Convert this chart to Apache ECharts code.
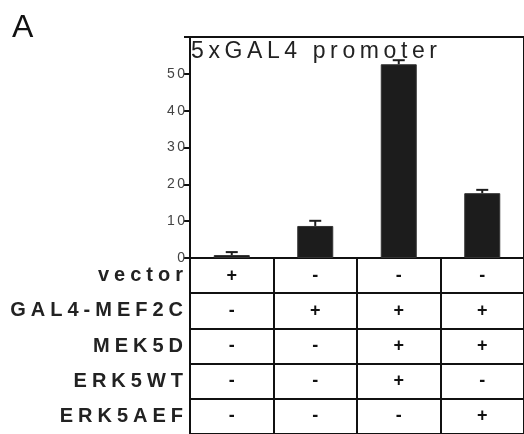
<!DOCTYPE html>
<html>
<head>
<meta charset="utf-8">
<script src="https://cdn.jsdelivr.net/npm/echarts@6/dist/echarts.min.js"></script>
<style>
  html, body { margin: 0; padding: 0; background: #fff; }
  #chart { width: 524px; height: 434px; }
</style>
</head>
<body>
<div id="chart"></div>
<script>
// Reporter activity (5xGAL4 promoter) for four transfection conditions
const lanes = ['lane1', 'lane2', 'lane3', 'lane4'];
const activity = [0.8, 8.7, 52.6, 17.6];
const errorTop = [1.6, 10.1, 53.7, 18.5];
const yTicks = [0, 10, 20, 30, 40, 50];

// Transfection table below the bars
const rowLabels = ['vector', 'GAL4-MEF2C', 'MEK5D', 'ERK5WT', 'ERK5AEF'];
const vectorRow = ['+', '-', '-', '-'];
const mef2cRow  = ['-', '+', '+', '+'];
const mek5dRow  = ['-', '-', '+', '+'];
const erk5wtRow = ['-', '-', '+', '-'];
const erk5aefRow = ['-', '-', '-', '+'];
const signRows = [vectorRow, mef2cRow, mek5dRow, erk5wtRow, erk5aefRow];

// letter-spaced text using narrow unicode spaces
const spaced = (s, gap) => s.split('').join(gap);

const FONT = '"Liberation Sans", Arial, Helvetica, sans-serif';

const tableData = [];
signRows.forEach((row, r) => row.forEach((sign, c) => tableData.push([c, r, sign])));

const chart = echarts.init(document.getElementById('chart'), null, { renderer: 'canvas' });

chart.setOption({
  animation: false,
  backgroundColor: '#fff',
  title: [
    {
      text: 'A', left: 12, top: 12, padding: 0,
      textStyle: { fontFamily: FONT, fontSize: 32, fontWeight: 'normal', color: '#111' }
    },
    {
      text: spaced('5xGAL4 promoter', '\u2009'), left: 191, top: 40, padding: 0,
      textStyle: { fontFamily: FONT, fontSize: 23, fontWeight: 'normal', color: '#222' }
    }
  ],
  grid: [
    { left: 190, top: 37, right: -2, height: 221, show: true, borderColor: '#111', borderWidth: 2 },
    { left: 190, top: 258, right: -2, height: 180 }
  ],
  xAxis: [
    {
      type: 'category', gridIndex: 0, data: lanes,
      axisLine: { show: true, lineStyle: { color: '#111', width: 2 } },
      axisTick: { show: false }, axisLabel: { show: false }
    },
    {
      type: 'category', gridIndex: 1, data: lanes,
      axisLine: { show: false }, axisTick: { show: false }, axisLabel: { show: false },
      splitLine: { show: true, interval: 0, lineStyle: { color: '#111', width: 2 } }
    }
  ],
  yAxis: [
    {
      type: 'value', gridIndex: 0, min: 0, max: 60, interval: 10,
      axisLine: { show: true, lineStyle: { color: '#111', width: 2 } },
      axisTick: { show: true, length: 6, lineStyle: { color: '#111', width: 2 } },
      splitLine: { show: false },
      axisLabel: {
        margin: 5, fontFamily: FONT, fontSize: 14, color: '#444',
        formatter: v => (yTicks.includes(v) ? spaced(String(v), '\u2006') : '')
      }
    },
    {
      type: 'category', gridIndex: 1, data: rowLabels, inverse: true,
      axisLine: { show: true, lineStyle: { color: '#111', width: 2 } },
      axisTick: { show: false },
      splitLine: { show: true, interval: 0, lineStyle: { color: '#111', width: 2 } },
      axisLabel: {
        margin: 7, fontFamily: FONT, fontSize: 20, fontWeight: 'bold', color: '#222',
        formatter: s => spaced(s, '\u2005')
      }
    }
  ],
  series: [
    {
      type: 'bar', xAxisIndex: 0, yAxisIndex: 0, data: activity, barWidth: 36,
      itemStyle: { color: '#1c1c1c', borderColor: '#333', borderWidth: 1 }, z: 3
    },
    {
      // upper error bars with a short cap
      type: 'custom', xAxisIndex: 0, yAxisIndex: 0, z: 4,
      data: lanes.map((_, i) => [i, activity[i], errorTop[i]]),
      renderItem: (params, api) => {
        const base = api.coord([api.value(0), api.value(1)]);
        const top = api.coord([api.value(0), api.value(2)]);
        const style = { stroke: '#1c1c1c', lineWidth: 2 };
        return {
          type: 'group',
          children: [
            { type: 'line', shape: { x1: base[0], y1: base[1], x2: top[0], y2: top[1] }, style },
            { type: 'line', shape: { x1: top[0] - 6, y1: top[1], x2: top[0] + 6, y2: top[1] }, style }
          ]
        };
      }
    },
    {
      // +/- marks of the transfection table
      type: 'custom', xAxisIndex: 1, yAxisIndex: 1, z: 5,
      data: tableData,
      renderItem: (params, api) => {
        const p = api.coord([api.value(0), api.value(1)]);
        return {
          type: 'text',
          style: {
            text: tableData[params.dataIndex][2], x: p[0], y: p[1],
            align: 'center', verticalAlign: 'middle',
            font: 'bold 18px ' + FONT, fill: '#111'
          }
        };
      }
    }
  ]
});
</script>
</body>
</html>
